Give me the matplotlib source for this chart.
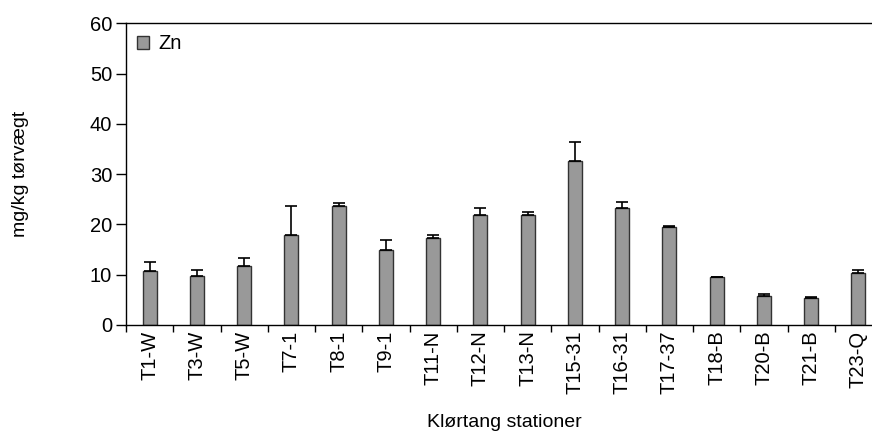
import matplotlib
matplotlib.use("Agg")
import matplotlib.pyplot as plt
import numpy as np

plt.rcParams['font.family'] = ['Liberation Sans', 'DejaVu Sans']

stations = ["T1-W", "T3-W", "T5-W", "T7-1", "T8-1", "T9-1", "T11-N", "T12-N",
            "T13-N", "T15-31", "T16-31", "T17-37", "T18-B", "T20-B", "T21-B", "T23-Q"]
zn = [10.8, 9.7, 11.7, 17.9, 23.7, 14.9, 17.4, 21.9,
      21.9, 32.7, 23.2, 19.5, 9.5, 5.8, 5.4, 10.3]
zn_err = [1.7, 1.2, 1.7, 5.8, 0.6, 2.1, 0.4, 1.4,
          0.6, 3.7, 1.3, 0.1, 0.0, 0.3, 0.1, 0.7]
yticks = [0, 10, 20, 30, 40, 50, 60]

fig = plt.figure(figsize=(8.72, 4.34), dpi=100)
ax = fig.add_axes([126/872, 109/434, 756/872, 301.7/434])

x = np.arange(len(stations))
ax.bar(x, zn, width=0.30, color="#999999", edgecolor="#333333", linewidth=1.0,
       label="Zn", zorder=2)
ax.errorbar(x, zn, yerr=[np.zeros(len(zn)), zn_err], fmt='none', ecolor='black',
            elinewidth=1.2, capsize=4, capthick=1.2, zorder=3)

ax.set_xlim(-0.5, len(stations) - 0.5)
ax.set_ylim(0, 60)
ax.set_yticks(yticks)
ax.set_xticks(x)
ax.set_xticklabels(stations, rotation=90, fontsize=14.5)
ax.set_xticks(np.arange(-0.5, len(stations), 1.0), minor=True)
ax.tick_params(axis='x', which='major', length=0, pad=4)
ax.tick_params(axis='x', which='minor', length=5, width=1, direction='out')
ax.tick_params(axis='y', length=7, width=1, direction='out', labelsize=14.5, pad=3)

for s in ['top', 'left', 'bottom']:
    ax.spines[s].set_linewidth(1.0)
    ax.spines[s].set_color('black')
ax.spines['right'].set_visible(False)

ax.set_ylabel("mg/kg tørvægt", fontsize=14, labelpad=44)
ax.set_xlabel("Klørtang stationer", fontsize=14, labelpad=14)

ax.legend(loc='upper left', frameon=False, fontsize=14.5, handlelength=0.6,
          handleheight=0.6, handletextpad=0.45, borderaxespad=0.25, borderpad=0.3)

fig.savefig("out.png", dpi=100)
